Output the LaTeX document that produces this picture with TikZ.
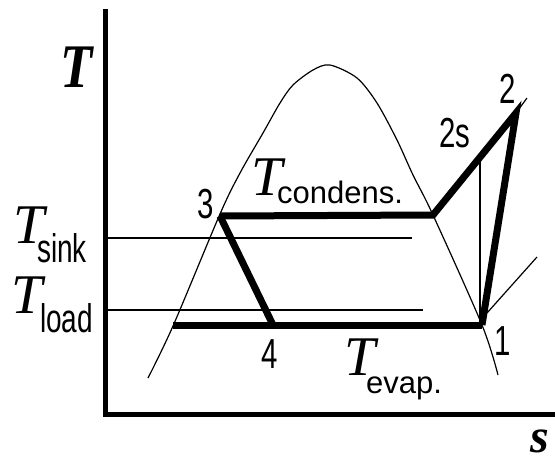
\documentclass[tikz,border=0pt]{standalone}
\usepackage{graphicx}
\usepackage{fontspec}
\setmainfont{Liberation Serif}
\setsansfont{Liberation Sans}
\newcommand\myT{{\fontsize{56}{56}\selectfont\itshape T}}
\newcommand\mysubA[1]{\scalebox{0.7}[1]{\fontsize{40}{40}\selectfont\sffamily #1}}
\newcommand\mysubB[1]{{\fontsize{31}{31}\selectfont\sffamily #1}}
\newcommand\mydig[1]{\scalebox{0.7}[1]{\fontsize{42}{42}\selectfont\sffamily #1}}
\tikzset{
  lab/.style={anchor=base west, inner sep=0pt, outer sep=0pt},
  thickline/.style={line width=7pt, line join=miter},
  thinline/.style={line width=1.4pt},
  domeline/.style={line width=1.2pt},
  axisline/.style={line width=5pt}
}
\begin{document}
\begin{tikzpicture}[x=1pt,y=-1pt]
\useasboundingbox (0,0) rectangle (555,464);
% axes
\coordinate (ytop) at (105.5,9);
\coordinate (xend) at (555,414.5);
\draw[axisline] (ytop) |- (xend);
\node[lab] (Tax) at (60,87) {\scalebox{0.85}[1]{\fontsize{62}{62}\selectfont\bfseries\itshape T}};
\node[lab] (sax) at (530,452) {\fontsize{48}{48}\selectfont\bfseries\itshape s};
% dome
\draw[domeline] plot[smooth, tension=0.5] coordinates {(148,378) (173,326) (220,214) (240,173) (263,133) (280,103) (293,85) (313,70) (330,65) (357,78) (377,103) (397,140) (413,175) (433,215) (482,325) (498,375)};
% state points
\coordinate (P3) at (220,216);
\coordinate (Pc) at (433,215);
\coordinate (P2) at (516,113);
\coordinate (P1) at (482,325);
\coordinate (P4) at (273,325);
\coordinate (Pf) at (173,325);
\coordinate (P2s) at (480,157);
\coordinate (P1b) at (480,325);
% reservoir temperature lines
\coordinate (sinkA) at (105,238);
\coordinate (sinkB) at (412,238);
\coordinate (loadA) at (105,310);
\coordinate (loadB) at (423,310);
\draw[thinline] (sinkA) -- (sinkB);
\draw[thinline] (loadA) -- (loadB);
% isentropic and pressure lines
\draw[thinline] (P1b) -- (P2s);
\coordinate (lpA) at (487,313);
\coordinate (lpB) at (537,257);
\draw[domeline] (lpA) -- (lpB);
\coordinate (hpA) at (516,113);
\coordinate (hpB) at (527,98);
\draw[domeline] (hpA) -- (hpB);
% cycle
\draw[thickline] (Pf) -- (P1);
\draw[thickline] (P3) -- (Pc) -- (P2) -- (P1);
\draw[thickline] (P3) -- (P4);
% labels
\node[lab] (Tsink) at (13,243) {\myT\kern-7pt\raisebox{-19pt}{\mysubA{sink}}};
\node[lab] (Tload) at (12,313) {\myT\kern-3pt\raisebox{-19pt}{\mysubA{load}}};
\node[lab] (Tcond) at (251,195) {\myT\kern-5pt\raisebox{-8pt}{\mysubB{condens.}}};
\node[lab] (Tevap) at (344,375) {\myT\kern-9pt\raisebox{-18pt}{\mysubB{evap.}}};
\node[lab] (L3) at (197,218) {\mydig{3}};
\node[lab] (L4) at (261,368) {\mydig{4}};
\node[lab] (L1) at (494,355) {\mydig{1}};
\node[lab] (L2) at (499,103) {\mydig{2}};
\node[lab] (L2s) at (439,147) {\mydig{2s}};
\end{tikzpicture}
\end{document}
